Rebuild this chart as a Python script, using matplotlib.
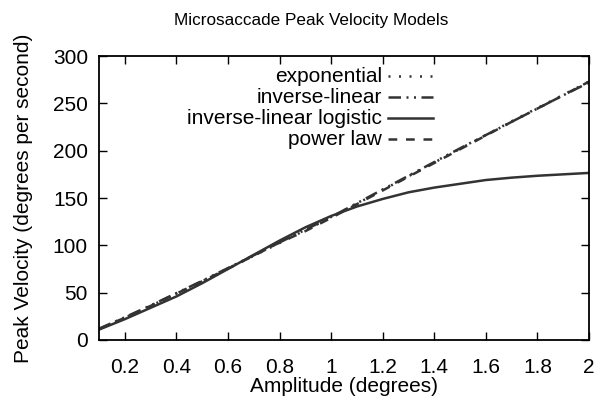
import matplotlib
matplotlib.use("Agg")
import matplotlib.pyplot as plt
import numpy as np

plt.rcParams['font.family'] = ['Liberation Sans', 'DejaVu Sans']

amplitude = [0.1, 0.2, 0.3, 0.4, 0.5, 0.6, 0.7, 0.8, 0.9, 1.0,
             1.1, 1.2, 1.3, 1.4, 1.5, 1.6, 1.7, 1.8, 1.9, 2.0]
exponential = [11.5, 23.5, 36, 49, 62, 75.5, 89, 102.5, 116, 129.5,
               144, 158.5, 173, 187.5, 202, 216.5, 231, 245, 259, 273]
inverse_linear = [12, 24, 36.5, 49.5, 62.5, 76, 89.5, 103, 116.5, 130,
                  144.5, 159, 173.5, 188, 202.5, 216.5, 230.5, 244.5, 258.5, 272]
logistic = [11, 22, 34, 46, 60, 75, 90, 105, 119, 131,
            141, 149, 156, 161, 165, 169, 171.5, 173.5, 175, 176.5]
power_law = [11.5, 23.5, 36, 49, 62, 75.5, 89, 103, 115, 129,
             143.5, 158, 172.5, 187, 201.5, 216, 230.5, 244.5, 258.5, 273]

labels = ['exponential', 'inverse-linear', 'inverse-linear logistic', 'power law']
col = '#333333'
fs = 15
lw = 1.8
styles = [dict(dashes=(0.8, 3.4)),
          dict(dashes=(5, 2.2, 0.8, 2.2, 0.8, 2.2)),
          dict(linestyle='-'),
          dict(dashes=(3.5, 3.5))]
series = [exponential, inverse_linear, logistic, power_law]

fig = plt.figure(figsize=(5.98, 4.05), dpi=100)
ax = fig.add_axes([0.1656, 0.1605, 0.985 - 0.1656, 0.8617 - 0.1605])

for vals, st in zip(series, styles):
    ax.plot(amplitude, vals, color=col, lw=lw, **st)

# gnuplot style key: label right-aligned, sample to its right
key_y = [0.9296, 0.8556, 0.7817, 0.7077]
for lab, st, ky in zip(labels, styles, key_y):
    ax.text(0.5776, ky, lab, ha='right', va='center', fontsize=fs,
            transform=ax.transAxes)
    ax.plot([0.590, 0.6816], [ky, ky], color=col, lw=lw, transform=ax.transAxes,
            clip_on=False, **st)

ax.set_xlim(0.1, 2)
ax.set_ylim(0, 300)
ax.set_xticks([0.2, 0.4, 0.6, 0.8, 1.0, 1.2, 1.4, 1.6, 1.8, 2.0])
ax.set_xticklabels(['0.2', '0.4', '0.6', '0.8', '1', '1.2', '1.4', '1.6', '1.8', '2'])
ax.set_yticks(np.arange(0, 301, 50))
ax.tick_params(direction='in', length=6, width=1, top=True, right=True,
               labelsize=fs)
ax.tick_params(axis='x', pad=13)
ax.tick_params(axis='y', pad=8)
for s in ax.spines.values():
    s.set_linewidth(1.3)

ax.set_xlabel('Amplitude (degrees)', fontsize=fs, labelpad=0)
ax.set_ylabel('Peak Velocity (degrees per second)', fontsize=fs, labelpad=14)
fig.text(311 / 598, 1 - 20 / 405, 'Microsaccade Peak Velocity Models',
         ha='center', va='center', fontsize=12.3)

fig.savefig('out.png', dpi=100)
